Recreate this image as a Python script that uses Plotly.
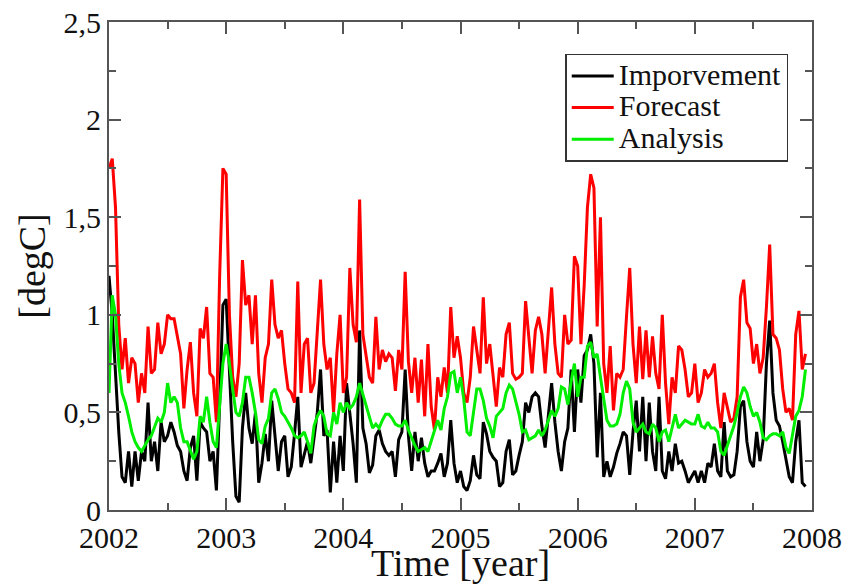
import plotly.graph_objects as go

# sampling: 36 values per year starting at 2002.0
start_year = 2002.0
per_year = 36

improvement = [
    # 2002
    1.2, 1.0, 0.7, 0.4, 0.17, 0.14, 0.3, 0.12, 0.3, 0.15, 0.3, 0.25, 0.55, 0.25, 0.35, 0.2, 0.45, 0.35,
    0.38, 0.45, 0.4, 0.33, 0.3, 0.2, 0.15, 0.32, 0.38, 0.15, 0.45, 0.42, 0.4, 0.25, 0.3, 0.1, 0.55, 1.05,
    # 2003
    1.08, 0.7, 0.35, 0.07, 0.04, 0.42, 0.6, 0.42, 0.34, 0.5, 0.14, 0.24, 0.39, 0.25, 0.56, 0.38, 0.2, 0.35,
    0.38, 0.17, 0.22, 0.39, 0.58, 0.22, 0.28, 0.35, 0.24, 0.38, 0.5, 0.72, 0.38, 0.41, 0.09, 0.35, 0.14, 0.38,
    # 2004
    0.2, 0.65, 0.5, 0.34, 0.14, 0.92, 0.42, 0.34, 0.19, 0.23, 0.38, 0.41, 0.34, 0.3, 0.28, 0.3, 0.17, 0.36,
    0.4, 0.72, 0.38, 0.2, 0.4, 0.25, 0.37, 0.24, 0.17, 0.2, 0.2, 0.24, 0.29, 0.17, 0.24, 0.46, 0.24, 0.14,
    # 2005
    0.2, 0.12, 0.1, 0.15, 0.28, 0.18, 0.16, 0.45, 0.39, 0.3, 0.27, 0.25, 0.12, 0.14, 0.3, 0.36, 0.18, 0.2,
    0.28, 0.35, 0.55, 0.5, 0.58, 0.6, 0.58, 0.43, 0.32, 0.5, 0.65, 0.45, 0.3, 0.2, 0.35, 0.42, 0.72, 0.4,
    # 2006
    0.72, 0.55, 0.79, 0.82, 0.9, 0.75, 0.27, 0.6, 0.17, 0.25, 0.17, 0.22, 0.29, 0.34, 0.4, 0.38, 0.18, 0.4,
    0.56, 0.3, 0.58, 0.25, 0.55, 0.3, 0.2, 0.58, 0.2, 0.16, 0.3, 0.2, 0.34, 0.24, 0.25, 0.2, 0.14, 0.17,
    # 2007
    0.2, 0.14, 0.2, 0.14, 0.24, 0.22, 0.34, 0.2, 0.17, 0.45, 0.2, 0.17, 0.18, 0.3, 0.53, 0.56, 0.35, 0.25,
    0.22, 0.4, 0.25, 0.36, 0.75, 0.97, 0.6, 0.46, 0.43, 0.35, 0.26, 0.17, 0.14, 0.35, 0.46, 0.14, 0.12,
]

forecast = [
    # 2002
    1.75, 1.8, 1.55, 0.95, 0.72, 0.88, 0.65, 0.78, 0.75, 0.55, 0.7, 0.6, 0.94, 0.7, 0.72, 0.96, 0.8, 0.85,
    1.0, 0.98, 0.98, 0.88, 0.8, 0.52, 0.72, 0.86, 0.6, 0.48, 0.93, 0.88, 1.04, 0.7, 0.68, 0.45, 1.2, 1.75,
    # 2003
    1.72, 1.0, 0.68, 0.58, 0.75, 1.28, 1.05, 1.1, 0.85, 1.1, 0.7, 0.55, 0.78, 0.85, 1.18, 0.95, 0.88, 0.92,
    0.75, 0.62, 0.6, 0.55, 1.17, 0.6, 0.85, 0.88, 0.6, 0.65, 0.9, 1.18, 0.85, 0.72, 0.78, 0.5, 0.8, 1.0,
    # 2004
    0.6, 0.68, 1.24, 0.95, 0.86, 1.59, 0.9, 0.8, 0.68, 0.65, 0.99, 0.72, 0.82, 0.76, 0.8, 0.78, 0.61, 0.82,
    0.72, 1.22, 0.76, 0.6, 0.78, 0.55, 0.77, 0.48, 0.85, 0.53, 0.41, 0.68, 0.58, 0.73, 0.6, 1.04, 0.78, 0.89,
    # 2005
    0.78, 0.6, 0.55, 0.68, 0.94, 0.82, 0.7, 1.09, 0.75, 0.85, 0.7, 0.53, 0.73, 0.68, 0.9, 0.96, 0.7, 0.67,
    0.68, 0.7, 1.07, 0.88, 0.7, 0.92, 0.99, 0.9, 0.7, 0.92, 1.14, 0.85, 0.7, 0.68, 1.0, 0.85, 0.87, 1.3,
    # 2006
    1.25, 0.85, 1.15, 1.55, 1.72, 1.65, 0.94, 1.5, 0.75, 0.6, 0.84, 0.51, 0.7, 0.68, 0.72, 0.99, 1.24, 0.85,
    0.65, 0.94, 0.67, 0.92, 0.68, 0.89, 0.7, 0.62, 1.0, 0.65, 0.44, 0.68, 0.6, 0.84, 0.82, 0.72, 0.58, 0.6,
    # 2007
    0.75, 0.55, 0.6, 0.72, 0.68, 0.7, 0.75, 0.55, 0.42, 0.6, 0.52, 0.45, 0.47, 0.58, 1.09, 1.18, 0.96, 0.93,
    0.75, 0.85, 0.7, 0.78, 1.04, 1.36, 0.9, 0.88, 0.82, 0.62, 0.5, 0.52, 0.46, 0.9, 1.02, 0.72, 0.8,
]

analysis = [
    # 2002
    0.6, 1.1, 1.0, 0.75, 0.6, 0.55, 0.48, 0.4, 0.35, 0.32, 0.3, 0.33, 0.36, 0.38, 0.42, 0.47, 0.45, 0.5,
    0.65, 0.55, 0.58, 0.55, 0.42, 0.35, 0.35, 0.3, 0.26, 0.3, 0.48, 0.45, 0.58, 0.45, 0.35, 0.32, 0.55, 0.75,
    # 2003
    0.85, 0.75, 0.62, 0.5, 0.48, 0.55, 0.68, 0.68, 0.6, 0.5, 0.36, 0.34, 0.43, 0.47, 0.6, 0.62, 0.57, 0.5,
    0.48, 0.45, 0.42, 0.38, 0.37, 0.38, 0.4, 0.35, 0.29, 0.43, 0.48, 0.51, 0.48, 0.39, 0.38, 0.5, 0.44, 0.55,
    # 2004
    0.5, 0.55, 0.52, 0.54, 0.58, 0.65, 0.59, 0.54, 0.47, 0.42, 0.44, 0.42, 0.46, 0.49, 0.49, 0.47, 0.44, 0.43,
    0.43, 0.46, 0.41, 0.37, 0.33, 0.3, 0.31, 0.32, 0.3, 0.35, 0.41, 0.46, 0.41, 0.52, 0.58, 0.7, 0.71, 0.6,
    # 2005
    0.68, 0.57, 0.4, 0.38, 0.5, 0.62, 0.62, 0.56, 0.47, 0.43, 0.37, 0.48, 0.5, 0.52, 0.6, 0.64, 0.62, 0.56,
    0.49, 0.4, 0.41, 0.36, 0.37, 0.38, 0.41, 0.38, 0.41, 0.46, 0.51, 0.48, 0.52, 0.63, 0.62, 0.54, 0.66, 0.75,
    # 2006
    0.58, 0.68, 0.68, 0.84, 0.86, 0.78, 0.8, 0.68, 0.56, 0.46, 0.43, 0.43, 0.44, 0.49, 0.6, 0.66, 0.62, 0.45,
    0.4, 0.42, 0.44, 0.4, 0.39, 0.44, 0.42, 0.35, 0.4, 0.41, 0.35, 0.42, 0.49, 0.42, 0.44, 0.46, 0.45, 0.44,
    # 2007
    0.44, 0.49, 0.43, 0.42, 0.45, 0.42, 0.42, 0.4, 0.3, 0.28, 0.33, 0.38, 0.43, 0.5, 0.58, 0.63, 0.6, 0.53,
    0.48, 0.5, 0.45, 0.37, 0.36, 0.38, 0.39, 0.39, 0.38, 0.4, 0.32, 0.29, 0.38, 0.48, 0.51, 0.58, 0.72,
]

series_names = ["Imporvement", "Forecast", "Analysis"]
series_colors = ["#000000", "#ff0000", "#00ee00"]

y_tick_vals = [0, 0.5, 1, 1.5, 2, 2.5]
y_tick_text = ["0", "0,5", "1", "1,5", "2", "2,5"]
x_tick_vals = [2002, 2003, 2004, 2005, 2006, 2007, 2008]
x_tick_text = ["2002", "2003", "2004", "2005", "2006", "2007", "2008"]

times = [start_year + i / per_year for i in range(len(improvement))]

font_family = "Times New Roman, Liberation Serif, serif"
text_color = "#111111"
frame_color = "#555555"

fig = go.Figure()
for name, vals, col in zip(series_names, [improvement, forecast, analysis], series_colors):
    fig.add_trace(go.Scatter(
        x=times[:len(vals)], y=vals, mode="lines",
        name='<span style="font-size:30px">' + name + '</span>',
        line=dict(color=col, width=3)))

axis_style = dict(
    showline=True, linecolor=frame_color, linewidth=2, mirror="ticks",
    ticks="inside", tickcolor=frame_color, tickwidth=1.5, ticklen=12,
    showgrid=False, zeroline=False, automargin=False, ticklabeloverflow="allow",
    tickfont=dict(family=font_family, size=30, color=text_color),
)

fig.update_layout(
    # page body has an 8px margin; size the figure so the plot lands where the reference has it
    width=850, height=576,
    margin=dict(l=101, r=46, t=14, b=74),
    paper_bgcolor="white", plot_bgcolor="white",
    font=dict(family=font_family, color=text_color, size=30),
    showlegend=True,
    legend=dict(
        x=0.649, y=0.935, xanchor="left", yanchor="top",
        bordercolor="#333333", borderwidth=1.5, bgcolor="white",
        font=dict(family=font_family, size=22, color=text_color),
        tracegroupgap=0, itemwidth=42,
    ),
    xaxis=dict(
        range=[2002, 2008], tickmode="array", tickvals=x_tick_vals, ticktext=x_tick_text,
        minor=dict(ticks="inside", dtick=0.5, ticklen=7, tickcolor=frame_color, tickwidth=1.5),
        **axis_style,
    ),
    yaxis=dict(
        range=[0, 2.5], tickmode="array", tickvals=y_tick_vals, ticktext=y_tick_text,
        minor=dict(ticks="inside", dtick=0.25, ticklen=7, tickcolor=frame_color, tickwidth=1.5),
        title=dict(text="[degC]", font=dict(family=font_family, size=38, color=text_color), standoff=6),
        **axis_style,
    ),
    annotations=[dict(
        text="Time [year]", xref="paper", yref="paper", x=0.5, y=0,
        xanchor="center", yanchor="top", yshift=-30, showarrow=False,
        font=dict(family=font_family, size=38, color=text_color),
    )],
)

fig.write_html("out.html")
